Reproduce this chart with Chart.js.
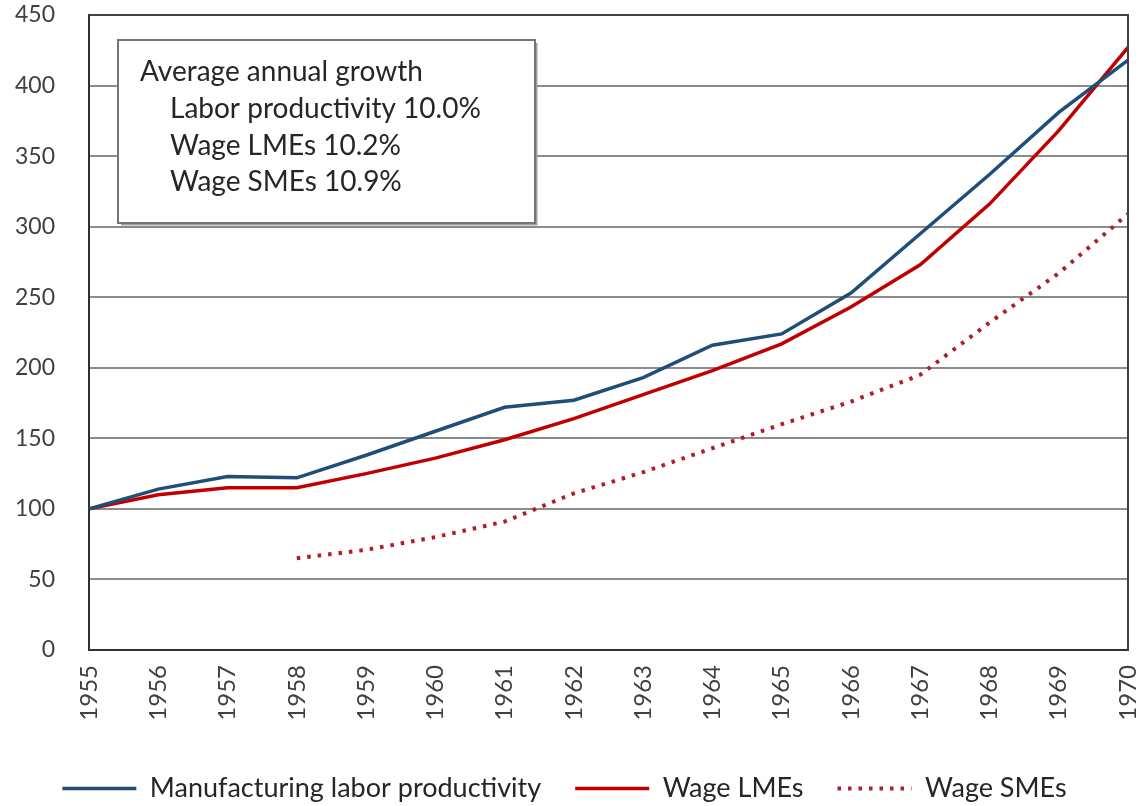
<!DOCTYPE html>
<html>
<head>
<meta charset="utf-8">
<script src="https://cdn.jsdelivr.net/npm/chart.js@4"></script>
<style>
  html, body { margin: 0; padding: 0; background: #fff; }
  #wrap { width: 1140px; height: 806px; }
</style>
</head>
<body>
<div id="wrap"><canvas id="myChart" width="1140" height="806"></canvas></div>
<script>
// years on the x axis
const years = ['1955', '1956', '1957', '1958', '1959', '1960', '1961', '1962',
               '1963', '1964', '1965', '1966', '1967', '1968', '1969', '1970'];

// index, 1955 = 100
const productivity = [100, 114, 123, 122, 138, 155, 172, 177, 193, 216, 224, 253, 295, 337, 381, 418];
const wageLME      = [100, 110, 115, 115, 125, 136, 149, 164, 181, 198, 217, 243, 273, 316, 368, 427];
const wageSME      = [null, null, null, 65, 71, 80, 91, 111, 126, 143, 160, 176, 195, 232, 267, 309];

// text inside the growth box
const growthTitle = 'Average annual growth';
const growthLines = ['Labor productivity 10.0%', 'Wage LMEs 10.2%', 'Wage SMEs 10.9%'];

const FONT = 'Lato';
const TEXT = '#404040';

// frame around the plot area + the growth box
const boxPlugin = {
  id: 'growthBox',
  afterDraw(chart) {
    const ctx = chart.ctx;
    const a = chart.chartArea;
    ctx.save();
    // top and right frame of the plot
    ctx.strokeStyle = '#404040';
    ctx.lineWidth = 2;
    ctx.beginPath();
    ctx.moveTo(a.left, a.top);
    ctx.lineTo(a.right, a.top);
    ctx.lineTo(a.right, a.bottom);
    ctx.stroke();

    // the box
    const x = 118, y = 40, w = 417, h = 183;
    ctx.fillStyle = '#fff';
    ctx.fillRect(x, y, w, h);
    ctx.strokeStyle = '#a0a0a0';
    ctx.lineWidth = 2;
    ctx.beginPath();
    ctx.moveTo(x + 3, y + h + 1.5);
    ctx.lineTo(x + w + 1.5, y + h + 1.5);
    ctx.lineTo(x + w + 1.5, y + 3);
    ctx.stroke();
    ctx.strokeStyle = '#757575';
    ctx.strokeRect(x, y, w, h);

    ctx.fillStyle = '#262626';
    ctx.font = '28px ' + FONT;
    ctx.textBaseline = 'alphabetic';
    ctx.fillText(growthTitle, 140, 81);
    growthLines.forEach((t, i) => ctx.fillText(t, 170, 118 + i * 36.7));
    ctx.restore();
  }
};

function createChart() {
  const ctx = document.getElementById('myChart').getContext('2d');

  const myChart = new Chart(ctx, {
    type: 'line',
    data: {
      labels: years,
      datasets: [{
        label: 'Manufacturing labor productivity',
        data: productivity,
        borderColor: '#1f4e79',
        backgroundColor: '#1f4e79',
        borderWidth: 3.5,
        pointRadius: 0
      }, {
        label: 'Wage LMEs',
        data: wageLME,
        borderColor: '#c00000',
        backgroundColor: '#c00000',
        borderWidth: 3.5,
        pointRadius: 0
      }, {
        label: 'Wage SMEs',
        data: wageSME,
        borderColor: '#b01c2a',
        backgroundColor: '#b01c2a',
        borderWidth: 4,
        borderDash: [3.5, 7],
        pointRadius: 0
      }]
    },
    options: {
      responsive: false,
      animation: false,
      layout: {
        padding: { top: 15, right: 11, left: 0, bottom: -6 }
      },
      scales: {
        x: {
          offset: false,
          // transparent grid, only used for the label gap
          grid: { display: true, color: 'rgba(0,0,0,0)', drawTicks: true, tickLength: 15, tickColor: 'rgba(0,0,0,0)' },
          border: { display: true, color: '#303030', width: 2 },
          ticks: {
            color: TEXT,
            font: { family: FONT, size: 24, lineHeight: 0.5 },
            minRotation: 90,
            maxRotation: 90,
            padding: 0
          },
          afterFit: s => { s.height = 91; }
        },
        y: {
          min: 0,
          max: 450,
          grid: { color: '#8c8c8c', lineWidth: 2, drawTicks: true, tickLength: 34, tickColor: 'rgba(0,0,0,0)' },
          border: { display: true, color: '#303030', width: 2 },
          ticks: {
            stepSize: 50,
            color: TEXT,
            font: { family: FONT, size: 23 },
            padding: 0
          },
          afterFit: s => { s.width = 89; }
        }
      },
      plugins: {
        legend: {
          display: true,
          position: 'bottom',
          labels: {
            color: '#262626',
            font: { family: FONT, size: 27 },
            usePointStyle: true,
            pointStyle: 'line',
            pointStyleWidth: 74,
            padding: 34,
            // legend samples take the line's dash and width
            generateLabels: chart => {
              const items = Chart.defaults.plugins.legend.labels.generateLabels(chart);
              items.forEach(item => {
                const ds = chart.data.datasets[item.datasetIndex];
                item.lineDash = ds.borderDash || [];
                item.lineWidth = ds.borderWidth;
                item.strokeStyle = ds.borderColor;
              });
              return items;
            }
          }
        },
        tooltip: { enabled: false }
      }
    },
    plugins: [boxPlugin]
  });
}

createChart();
</script>
</body>
</html>
